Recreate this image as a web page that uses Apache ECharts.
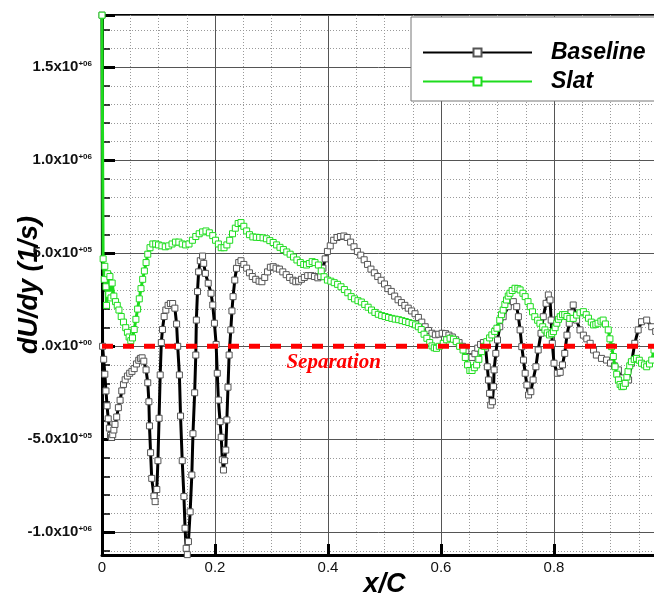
<!DOCTYPE html>
<html><head><meta charset="utf-8">
<script src="https://cdn.jsdelivr.net/npm/echarts@6/dist/echarts.min.js"></script>
<style>html,body{margin:0;padding:0;background:#fff}#c{width:654px;height:601px}</style>
</head><body><div id="c"></div>
<script>
const baselineX = [0.000,0.001,0.003,0.005,0.007,0.009,0.011,0.013,0.015,0.017,0.019,0.021,0.023,0.026,0.029,0.032,0.035,0.038,0.041,0.045,0.049,0.053,0.057,0.061,0.065,0.068,0.071,0.074,0.078,0.081,0.083,0.084,0.086,0.088,0.092,0.094,0.097,0.099,0.101,0.103,0.105,0.107,0.110,0.113,0.117,0.121,0.125,0.129,0.132,0.134,0.137,0.139,0.142,0.145,0.147,0.149,0.151,0.153,0.156,0.159,0.161,0.164,0.166,0.167,0.169,0.171,0.174,0.178,0.180,0.183,0.188,0.193,0.196,0.199,0.202,0.204,0.206,0.209,0.211,0.213,0.215,0.217,0.219,0.221,0.223,0.225,0.228,0.230,0.232,0.235,0.238,0.242,0.246,0.251,0.256,0.261,0.266,0.272,0.278,0.283,0.288,0.293,0.298,0.303,0.308,0.314,0.320,0.326,0.332,0.338,0.343,0.348,0.353,0.358,0.364,0.370,0.376,0.382,0.387,0.391,0.395,0.399,0.404,0.410,0.416,0.422,0.428,0.434,0.440,0.446,0.452,0.458,0.464,0.470,0.476,0.482,0.488,0.494,0.500,0.506,0.512,0.518,0.524,0.530,0.536,0.542,0.548,0.554,0.560,0.566,0.572,0.578,0.584,0.590,0.596,0.602,0.608,0.614,0.620,0.626,0.632,0.638,0.644,0.650,0.655,0.660,0.665,0.670,0.675,0.679,0.682,0.684,0.686,0.688,0.691,0.693,0.694,0.697,0.700,0.704,0.710,0.719,0.728,0.734,0.737,0.740,0.743,0.746,0.749,0.752,0.755,0.759,0.763,0.768,0.772,0.777,0.781,0.786,0.790,0.793,0.795,0.797,0.800,0.806,0.811,0.815,0.819,0.823,0.827,0.830,0.834,0.840,0.846,0.852,0.858,0.864,0.870,0.875,0.884,0.893,0.900,0.907,0.914,0.920,0.926,0.932,0.937,0.943,0.949,0.955,0.964,0.973,0.980,0.990];
const baselineY = [17.8e5,0.0,-0.7e5,-1.5e5,-2.4e5,-3.2e5,-3.9e5,-4.4e5,-4.8e5,-4.9e5,-4.75e5,-4.5e5,-4.2e5,-3.8e5,-3.3e5,-2.9e5,-2.4e5,-2.05e5,-1.8e5,-1.6e5,-1.45e5,-1.35e5,-1.2e5,-0.95e5,-0.75e5,-0.65e5,-0.62e5,-0.8e5,-1.27e5,-1.96e5,-2.98e5,-4.28e5,-5.72e5,-7.1e5,-8.05e5,-8.35e5,-7.7e5,-6.15e5,-3.87e5,-1.54e5,0.2e5,0.9e5,1.6e5,1.95e5,2.2e5,2.3e5,2.3e5,2.05e5,1.2e5,0.0,-1.54e5,-3.75e5,-6.15e5,-8.08e5,-9.78e5,-10.86e5,-11.2e5,-10.5e5,-8.9e5,-6.92e5,-4.7e5,-2.5e5,-0.47e5,1.41e5,2.94e5,4.0e5,4.6e5,4.85e5,4.46e5,3.92e5,3.39e5,2.85e5,2.22e5,1.24e5,0.1e5,-1.45e5,-2.89e5,-4.05e5,-4.89e5,-6.1e5,-6.65e5,-6.15e5,-5.58e5,-3.96e5,-2.2e5,-0.47e5,0.88e5,1.9e5,2.67e5,3.56e5,4.19e5,4.5e5,4.6e5,4.4e5,4.2e5,3.95e5,3.75e5,3.6e5,3.5e5,3.47e5,3.7e5,4.0e5,4.25e5,4.28e5,4.2e5,4.15e5,4.0e5,3.85e5,3.7e5,3.55e5,3.47e5,3.5e5,3.6e5,3.7e5,3.8e5,3.8e5,3.75e5,3.68e5,3.75e5,4.2e5,4.7e5,5.1e5,5.4e5,5.7e5,5.85e5,5.9e5,5.93e5,5.85e5,5.6e5,5.35e5,5.1e5,4.9e5,4.65e5,4.4e5,4.15e5,3.95e5,3.75e5,3.55e5,3.35e5,3.1e5,2.95e5,2.7e5,2.5e5,2.35e5,2.2e5,2.05e5,1.9e5,1.75e5,1.55e5,1.3e5,1.05e5,0.85e5,0.7e5,0.62e5,0.65e5,0.7e5,0.68e5,0.6e5,0.5e5,0.35e5,0.2e5,0.0,-0.3e5,-0.55e5,-0.6e5,-0.4e5,-0.1e5,0.1e5,0.2e5,-0.1e5,-1.1e5,-1.81e5,-2.53e5,-3.16e5,-2.98e5,-2.17e5,-1.27e5,-0.38e5,0.34e5,1.05e5,1.59e5,2.13e5,2.4e5,2.13e5,1.59e5,0.88e5,-0.02e5,-0.74e5,-1.45e5,-2.08e5,-2.62e5,-2.44e5,-1.81e5,-1.1e5,-0.2e5,0.7e5,1.59e5,2.31e5,2.76e5,2.49e5,1.41e5,0.16e5,-0.91e5,-1.45e5,-1.4e5,-1.0e5,-0.38e5,0.6e5,1.24e5,1.8e5,2.22e5,1.41e5,0.88e5,0.6e5,0.4e5,0.16e5,-0.2e5,-0.47e5,-0.65e5,-0.74e5,-0.9e5,-1.05e5,-1.27e5,-1.7e5,-1.99e5,-1.81e5,-0.91e5,0.16e5,0.88e5,1.32e5,1.41e5,1.05e5,0.8e5,0.5e5];
const slatX = [0.000,0.002,0.004,0.005,0.007,0.008,0.010,0.012,0.014,0.016,0.018,0.021,0.024,0.027,0.030,0.034,0.038,0.042,0.045,0.048,0.051,0.054,0.057,0.060,0.063,0.066,0.069,0.072,0.075,0.078,0.081,0.085,0.090,0.095,0.100,0.106,0.112,0.118,0.124,0.130,0.136,0.142,0.148,0.154,0.160,0.166,0.172,0.178,0.184,0.190,0.196,0.201,0.206,0.211,0.216,0.221,0.226,0.231,0.236,0.241,0.246,0.251,0.256,0.261,0.267,0.273,0.279,0.285,0.291,0.297,0.303,0.309,0.315,0.321,0.327,0.333,0.339,0.345,0.351,0.357,0.362,0.367,0.372,0.377,0.383,0.388,0.393,0.399,0.405,0.411,0.417,0.423,0.429,0.435,0.441,0.447,0.453,0.459,0.465,0.471,0.477,0.483,0.489,0.495,0.501,0.507,0.513,0.519,0.525,0.531,0.537,0.543,0.549,0.555,0.560,0.565,0.570,0.575,0.580,0.584,0.588,0.592,0.597,0.604,0.610,0.616,0.622,0.627,0.633,0.639,0.643,0.647,0.651,0.655,0.659,0.663,0.667,0.672,0.677,0.681,0.686,0.690,0.695,0.699,0.704,0.707,0.710,0.713,0.716,0.719,0.722,0.726,0.731,0.736,0.740,0.745,0.749,0.754,0.758,0.762,0.766,0.771,0.775,0.780,0.784,0.788,0.792,0.796,0.799,0.802,0.805,0.808,0.811,0.815,0.819,0.823,0.828,0.834,0.840,0.846,0.852,0.857,0.861,0.866,0.870,0.874,0.878,0.883,0.887,0.891,0.896,0.899,0.902,0.905,0.908,0.911,0.914,0.917,0.920,0.923,0.926,0.929,0.931,0.934,0.937,0.942,0.946,0.951,0.955,0.960,0.964,0.969,0.973,0.977,0.985];
const slatY = [17.8e5,4.7e5,3.6e5,4.3e5,3.2e5,2.2e5,3.9e5,2.8e5,3.75e5,2.6e5,3.4e5,2.7e5,2.4e5,2.2e5,1.95e5,1.6e5,1.3e5,1.0e5,0.75e5,0.5e5,0.3e5,0.45e5,0.9e5,1.45e5,2.0e5,2.55e5,3.1e5,3.6e5,4.05e5,4.5e5,4.95e5,5.3e5,5.5e5,5.5e5,5.45e5,5.4e5,5.35e5,5.4e5,5.5e5,5.6e5,5.6e5,5.5e5,5.45e5,5.5e5,5.7e5,5.9e5,6.05e5,6.15e5,6.2e5,6.1e5,5.95e5,5.7e5,5.5e5,5.3e5,5.3e5,5.45e5,5.7e5,6.05e5,6.35e5,6.6e5,6.65e5,6.45e5,6.2e5,6.0e5,5.88e5,5.86e5,5.85e5,5.83e5,5.78e5,5.68e5,5.58e5,5.45e5,5.32e5,5.2e5,5.07e5,4.95e5,4.8e5,4.64e5,4.5e5,4.4e5,4.37e5,4.45e5,4.55e5,4.5e5,4.37e5,4.05e5,3.74e5,3.56e5,3.5e5,3.42e5,3.33e5,3.2e5,3.05e5,2.88e5,2.67e5,2.55e5,2.45e5,2.38e5,2.25e5,2.1e5,1.95e5,1.82e5,1.72e5,1.65e5,1.6e5,1.55e5,1.5e5,1.46e5,1.43e5,1.38e5,1.33e5,1.28e5,1.22e5,1.15e5,1.05e5,0.9e5,0.65e5,0.43e5,0.2e5,0.02e5,-0.08e5,-0.11e5,0.0,0.16e5,0.35e5,0.43e5,0.38e5,0.25e5,0.0,-0.2e5,-0.6e5,-1.0e5,-1.3e5,-1.3e5,-1.15e5,-1.0e5,-0.7e5,-0.29e5,0.0,0.25e5,0.45e5,0.61e5,0.8e5,0.97e5,1.41e5,1.7e5,1.95e5,2.25e5,2.49e5,2.7e5,2.85e5,3.0e5,3.12e5,3.1e5,3.03e5,2.85e5,2.67e5,2.4e5,2.13e5,1.85e5,1.59e5,1.4e5,1.24e5,1.05e5,0.88e5,0.72e5,0.61e5,0.68e5,0.79e5,1.0e5,1.24e5,1.45e5,1.59e5,1.7e5,1.7e5,1.6e5,1.5e5,1.5e5,1.68e5,1.8e5,1.86e5,1.7e5,1.51e5,1.3e5,1.15e5,1.18e5,1.24e5,1.35e5,1.41e5,1.2e5,0.88e5,0.4e5,-0.02e5,-0.55e5,-1.1e5,-1.5e5,-1.81e5,-2.05e5,-2.17e5,-2.15e5,-1.99e5,-1.65e5,-1.36e5,-1.05e5,-0.83e5,-0.7e5,-0.65e5,-0.75e5,-0.91e5,-1.0e5,-1.1e5,-0.95e5,-0.74e5,-0.2e5,0.3e5];
const separationX = [0, 1];
const separationY = [0, 0];
const separationLabel = {name: 'Separation', x: 0.41, y: -0.9e5};
const seriesNames = ['Baseline', 'Slat'];
const xTickLabels = ['0', '0.2', '0.4', '0.6', '0.8', '1'];
const yTickValues = [-1.0e6, -5.0e5, 0, 5.0e5, 1.0e6, 1.5e6];
const yTickMantissa = ['-1.0x10', '-5.0x10', '.0x10', '5.0x10', '1.0x10', '1.5x10'];
const yTickExponent = ['+06', '+05', '+00', '+05', '+06', '+06'];

const zip = (xs, ys) => xs.map((x, i) => [x, ys[i]]);
const chart = echarts.init(document.getElementById('c'), null, {renderer: 'canvas'});
const FONT = 'Liberation Sans, Arial, sans-serif';
const GREEN = '#1edc1e';

chart.setOption({
  animation: false,
  backgroundColor: '#fff',
  grid: {left: 102, top: 15, right: -13, bottom: 46, show: true, borderColor: '#000', borderWidth: 2,
         backgroundColor: 'transparent', containLabel: false, outerBoundsMode: 'none'},
  legend: {
    data: seriesNames, orient: 'vertical', left: 411, top: 17,
    padding: [24, 40, 8, 11], itemWidth: 109, itemHeight: 10, itemGap: 6,
    backgroundColor: '#fff', borderColor: '#777', borderWidth: 1,
    textStyle: {fontSize: 23, fontWeight: 'bold', fontStyle: 'italic', color: '#000', fontFamily: FONT, padding: [0, 0, 0, 14]}
  },
  xAxis: {
    type: 'value', min: 0, max: 1, interval: 0.2,
    name: 'x/C', nameLocation: 'middle', nameGap: 16, nameMoveOverlap: false,
    nameTextStyle: {fontSize: 27, fontWeight: 'bold', fontStyle: 'italic', fontFamily: FONT, color: '#000'},
    axisLine: {show: true, onZero: false, lineStyle: {color: '#000', width: 3}},
    axisTick: {show: true, inside: true, length: 11, lineStyle: {color: '#000', width: 3}},
    minorTick: {show: false, splitNumber: 4},
    axisLabel: {margin: 5, fontSize: 15, color: '#111', fontFamily: FONT,
      formatter: v => xTickLabels[Math.round(v / 0.2)] || ''},
    splitLine: {show: true, lineStyle: {color: '#555', width: 1}},
    minorSplitLine: {show: true, lineStyle: {color: '#999', width: 1, type: [1, 2]}}
  },
  yAxis: {
    type: 'value', min: -1.122e6, max: 1.781e6, splitNumber: 6,
    name: 'dU/dy (1/s)', nameLocation: 'middle', nameGap: 59, nameMoveOverlap: false,
    nameTextStyle: {fontSize: 27, fontWeight: 'bold', fontStyle: 'italic', fontFamily: FONT, color: '#000'},
    axisLine: {show: true, onZero: false, lineStyle: {color: '#000', width: 3}},
    axisTick: {show: true, inside: true, length: 13, lineStyle: {color: '#000', width: 3}},
    minorTick: {show: true, splitNumber: 5, length: 8, lineStyle: {color: '#000', width: 1.5}},
    axisLabel: {margin: 10, showMinLabel: false, showMaxLabel: false,
      formatter: v => {
        const i = yTickValues.findIndex(t => Math.abs(t - v) < 1);
        return i < 0 ? '' : '{a|' + yTickMantissa[i] + '}{b|' + yTickExponent[i] + '}';
      },
      rich: {
        a: {fontSize: 15, fontWeight: 'bold', color: '#111', fontFamily: FONT},
        b: {fontSize: 8, fontWeight: 'bold', color: '#111', fontFamily: FONT, verticalAlign: 'top'}
      }
    },
    splitLine: {show: true, lineStyle: {color: '#555', width: 1}},
    minorSplitLine: {show: true, lineStyle: {color: '#999', width: 1, type: [1, 2]}}
  },
  series: [
    {name: seriesNames[0], type: 'line', data: zip(baselineX, baselineY), z: 2,
     symbol: 'rect', symbolSize: 6, showSymbol: true, showAllSymbol: true,
     lineStyle: {color: '#000', width: 3},
     itemStyle: {color: '#fff', borderColor: '#555', borderWidth: 1}},
    {name: seriesNames[1], type: 'line', data: zip(slatX, slatY), z: 3,
     symbol: 'rect', symbolSize: 6, showSymbol: true, showAllSymbol: true,
     lineStyle: {color: GREEN, width: 3},
     itemStyle: {color: '#fff', borderColor: GREEN, borderWidth: 1}},
    {name: 'separation', type: 'line', data: zip(separationX, separationY), z: 5, silent: true,
     symbol: 'none', lineStyle: {color: '#ff0000', width: 5, type: [11, 10]},
     markPoint: {
       symbol: 'rect', symbolSize: 1, itemStyle: {color: 'transparent', borderWidth: 0},
       label: {show: true, position: 'inside', formatter: '{b}', color: '#ff0000',
         fontFamily: 'Liberation Serif, Times New Roman, serif', fontWeight: 'bold', fontStyle: 'italic', fontSize: 21},
       data: [{name: separationLabel.name, coord: [separationLabel.x, separationLabel.y]}]
     }}
  ]
});
</script></body></html>
